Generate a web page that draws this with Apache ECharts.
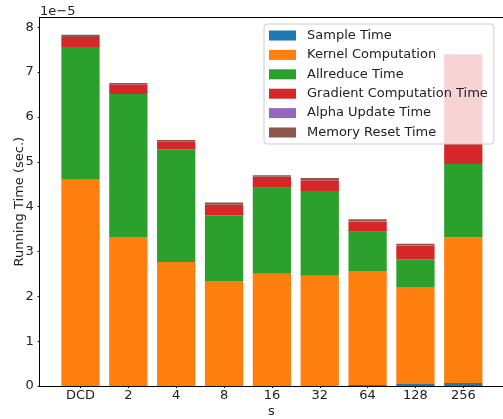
<!DOCTYPE html>
<html>
<head>
<meta charset="utf-8">
<script src="https://cdn.jsdelivr.net/npm/echarts@6/dist/echarts.min.js"></script>
<style>
  html, body { margin: 0; padding: 0; background: #fff; }
  #chart { width: 503px; height: 419px; }
</style>
</head>
<body>
<div id="chart"></div>
<script>
// Running time per phase, in units of 1e-5 seconds
const categories = ['DCD', '2', '4', '8', '16', '32', '64', '128', '256'];
const sampleTime   = [0, 0, 0, 0, 0, 0, 0.02, 0.045, 0.067];
const kernelComp   = [4.615, 3.32, 2.765, 2.34, 2.505, 2.46, 2.545, 2.16, 3.25];
const allreduce    = [2.945, 3.19, 2.515, 1.46, 1.915, 1.89, 0.875, 0.615, 1.636];
const gradientComp = [0.22, 0.22, 0.18, 0.24, 0.24, 0.24, 0.22, 0.31, 2.444];
const alphaUpdate  = [0.004, 0.004, 0.004, 0.004, 0.004, 0.004, 0.015, 0.004, 0.004];
const memoryReset  = [0.046, 0.022, 0.021, 0.046, 0.036, 0.046, 0.045, 0.036, 0];
const yTicks = [0, 1, 2, 3, 4, 5, 6, 7, 8];

const seriesDefs = [
  { name: 'Sample Time', values: sampleTime, color: '#1f77b4' },
  { name: 'Kernel Computation', values: kernelComp, color: '#ff7f0e' },
  { name: 'Allreduce Time', values: allreduce, color: '#2ca02c' },
  { name: 'Gradient Computation Time', values: gradientComp, color: '#d62728' },
  { name: 'Alpha Update Time', values: alphaUpdate, color: '#9467bd' },
  { name: 'Memory Reset Time', values: memoryReset, color: '#8c564b' }
];

const FONT = 'DejaVu Sans';
const totals = categories.map((_, i) => seriesDefs.reduce((s, d) => s + d.values[i], 0));
const yMax = Math.max(...totals) * 1.05;

// Frame (axes box) and the band area holding the bars share the same vertical extent
const TOP = 17.3, HEIGHT = 368.7;
const BAND = 47.85;

const chart = echarts.init(document.getElementById('chart'), null, { renderer: 'canvas' });

chart.setOption({
  animation: false,
  textStyle: { fontFamily: FONT },
  grid: [
    { left: 39.7, top: TOP, width: 463.3, height: HEIGHT, containLabel: false, outerBoundsMode: 'none' },
    { left: 80.5 - BAND / 2, top: TOP, width: BAND * categories.length, height: HEIGHT, containLabel: false, outerBoundsMode: 'none' }
  ],
  legend: {
    orient: 'vertical',
    left: 264,
    top: 24,
    padding: [5, 6, 5, 5],
    itemWidth: 27,
    itemHeight: 10,
    itemGap: 6.4,
    icon: 'rect',
    backgroundColor: 'rgba(255,255,255,0.8)',
    borderColor: '#cccccc',
    borderWidth: 1,
    borderRadius: 3,
    textStyle: { fontFamily: FONT, fontSize: 13, color: '#222', padding: [0, 0, 0, 6] },
    data: seriesDefs.map(d => d.name)
  },
  xAxis: [{
    // bottom spine
    gridIndex: 0,
    type: 'value',
    min: 0,
    max: 1,
    name: 's',
    nameLocation: 'middle',
    nameGap: 19,
    nameTextStyle: { fontFamily: FONT, fontSize: 13, color: '#222' },
    splitLine: { show: false },
    axisLine: { show: true, onZero: false, lineStyle: { color: '#000', width: 1 } },
    axisTick: { show: false },
    axisLabel: { show: false }
  }, {
    // top spine
    gridIndex: 0,
    type: 'value',
    position: 'top',
    min: 0,
    max: 1,
    splitLine: { show: false },
    axisLine: { show: true, onZero: false, lineStyle: { color: '#000', width: 1 } },
    axisTick: { show: false },
    axisLabel: { show: false }
  }, {
    // category bands for the bars
    gridIndex: 1,
    type: 'category',
    data: categories,
    boundaryGap: true,
    axisLine: { show: false },
    axisTick: { show: true, alignWithLabel: true, length: 2, lineStyle: { color: '#000' } },
    axisLabel: { fontFamily: FONT, fontSize: 13, color: '#222', margin: 3, interval: 0 },
    splitLine: { show: false }
  }],
  yAxis: [{
    gridIndex: 0,
    type: 'value',
    min: 0,
    max: yMax,
    interval: 1,
    splitLine: { show: false },
    axisLine: { show: true, onZero: false, lineStyle: { color: '#000', width: 1 } },
    axisTick: { show: true, length: 2, customValues: yTicks, lineStyle: { color: '#000' } },
    axisLabel: {
      customValues: yTicks,
      formatter: v => String(Math.round(v)),
      fontFamily: FONT, fontSize: 13, color: '#222', margin: 6
    }
  }, {
    gridIndex: 1,
    type: 'value',
    min: 0,
    max: yMax,
    show: false
  }],
  graphic: [{
    // axis scale factor
    type: 'text',
    left: 40,
    top: 5,
    style: { text: '1e\u22125', fontFamily: FONT, fontSize: 13, fill: '#222' }
  }, {
    // y axis title, rotated
    type: 'text',
    x: 19.5,
    y: TOP + HEIGHT / 2,
    rotation: Math.PI / 2,
    style: {
      text: 'Running Time (sec.)', fontFamily: FONT, fontSize: 13, fill: '#222',
      align: 'center', verticalAlign: 'middle'
    }
  }],
  series: seriesDefs.map(d => ({
    name: d.name,
    type: 'bar',
    stack: 'total',
    xAxisIndex: 2,
    yAxisIndex: 1,
    barWidth: '80%',
    itemStyle: { color: d.color },
    emphasis: { disabled: true },
    data: d.values
  }))
});
</script>
</body>
</html>
